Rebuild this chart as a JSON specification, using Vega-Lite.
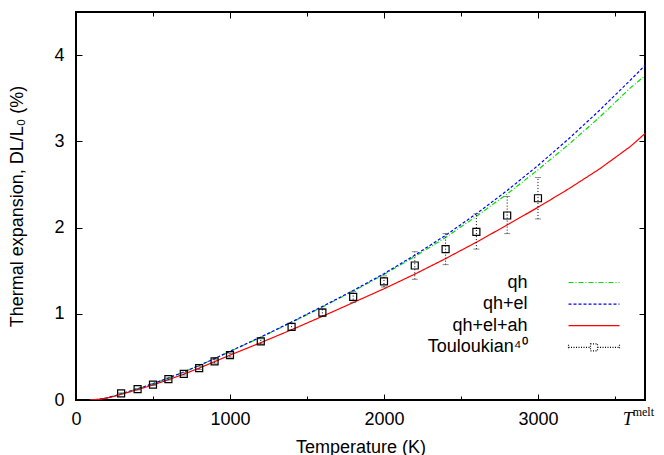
{
  "$schema": "https://vega.github.io/schema/vega-lite/v6.json",
  "width": 569,
  "height": 388,
  "autosize": {"type": "none"},
  "padding": {"left": 76, "top": 12, "right": 19, "bottom": 55},
  "background": "white",
  "config": {
    "view": {"stroke": "black", "strokeWidth": 2},
    "font": "Liberation Sans",
    "axis": {
      "domain": false, "grid": false,
      "labelFont": "Liberation Sans", "labelFontSize": 18, "labelColor": "black",
      "titleFont": "Liberation Sans", "titleFontSize": 18, "titleFontWeight": "normal", "titleColor": "black",
      "tickColor": "black", "tickWidth": 1
    }
  },
  "datasets": {
    "curves": [
      {"series": "qh", "T": 90, "v": 0}, {"series": "qh", "T": 150, "v": 0.009}, {"series": "qh", "T": 200, "v": 0.024}, {"series": "qh", "T": 250, "v": 0.047}, {"series": "qh", "T": 300, "v": 0.075}, {"series": "qh", "T": 400, "v": 0.13}, {"series": "qh", "T": 500, "v": 0.19}, {"series": "qh", "T": 600, "v": 0.255}, {"series": "qh", "T": 700, "v": 0.325}, {"series": "qh", "T": 800, "v": 0.4}, {"series": "qh", "T": 900, "v": 0.48}, {"series": "qh", "T": 1000, "v": 0.563}, {"series": "qh", "T": 1200, "v": 0.727}, {"series": "qh", "T": 1400, "v": 0.9}, {"series": "qh", "T": 1600, "v": 1.079}, {"series": "qh", "T": 1800, "v": 1.262}, {"series": "qh", "T": 2000, "v": 1.455}, {"series": "qh", "T": 2200, "v": 1.665}, {"series": "qh", "T": 2400, "v": 1.885}, {"series": "qh", "T": 2600, "v": 2.13}, {"series": "qh", "T": 2800, "v": 2.39}, {"series": "qh", "T": 3000, "v": 2.67}, {"series": "qh", "T": 3200, "v": 2.965}, {"series": "qh", "T": 3400, "v": 3.28}, {"series": "qh", "T": 3600, "v": 3.62}, {"series": "qh", "T": 3695, "v": 3.76},
      {"series": "qh+el", "T": 90, "v": 0}, {"series": "qh+el", "T": 150, "v": 0.009}, {"series": "qh+el", "T": 200, "v": 0.024}, {"series": "qh+el", "T": 250, "v": 0.047}, {"series": "qh+el", "T": 300, "v": 0.075}, {"series": "qh+el", "T": 400, "v": 0.13}, {"series": "qh+el", "T": 500, "v": 0.19}, {"series": "qh+el", "T": 600, "v": 0.255}, {"series": "qh+el", "T": 700, "v": 0.325}, {"series": "qh+el", "T": 800, "v": 0.4}, {"series": "qh+el", "T": 900, "v": 0.48}, {"series": "qh+el", "T": 1000, "v": 0.565}, {"series": "qh+el", "T": 1200, "v": 0.73}, {"series": "qh+el", "T": 1400, "v": 0.905}, {"series": "qh+el", "T": 1600, "v": 1.085}, {"series": "qh+el", "T": 1800, "v": 1.27}, {"series": "qh+el", "T": 2000, "v": 1.465}, {"series": "qh+el", "T": 2200, "v": 1.68}, {"series": "qh+el", "T": 2400, "v": 1.91}, {"series": "qh+el", "T": 2600, "v": 2.16}, {"series": "qh+el", "T": 2800, "v": 2.43}, {"series": "qh+el", "T": 3000, "v": 2.72}, {"series": "qh+el", "T": 3200, "v": 3.03}, {"series": "qh+el", "T": 3400, "v": 3.36}, {"series": "qh+el", "T": 3600, "v": 3.71}, {"series": "qh+el", "T": 3695, "v": 3.88},
      {"series": "qh+el+ah", "T": 90, "v": 0}, {"series": "qh+el+ah", "T": 150, "v": 0.008}, {"series": "qh+el+ah", "T": 200, "v": 0.022}, {"series": "qh+el+ah", "T": 250, "v": 0.043}, {"series": "qh+el+ah", "T": 300, "v": 0.07}, {"series": "qh+el+ah", "T": 400, "v": 0.12}, {"series": "qh+el+ah", "T": 500, "v": 0.175}, {"series": "qh+el+ah", "T": 600, "v": 0.235}, {"series": "qh+el+ah", "T": 700, "v": 0.3}, {"series": "qh+el+ah", "T": 800, "v": 0.37}, {"series": "qh+el+ah", "T": 900, "v": 0.445}, {"series": "qh+el+ah", "T": 1000, "v": 0.52}, {"series": "qh+el+ah", "T": 1200, "v": 0.665}, {"series": "qh+el+ah", "T": 1400, "v": 0.815}, {"series": "qh+el+ah", "T": 1600, "v": 0.97}, {"series": "qh+el+ah", "T": 1800, "v": 1.13}, {"series": "qh+el+ah", "T": 2000, "v": 1.29}, {"series": "qh+el+ah", "T": 2200, "v": 1.46}, {"series": "qh+el+ah", "T": 2400, "v": 1.64}, {"series": "qh+el+ah", "T": 2600, "v": 1.83}, {"series": "qh+el+ah", "T": 2800, "v": 2.03}, {"series": "qh+el+ah", "T": 3000, "v": 2.235}, {"series": "qh+el+ah", "T": 3200, "v": 2.45}, {"series": "qh+el+ah", "T": 3400, "v": 2.68}, {"series": "qh+el+ah", "T": 3600, "v": 2.94}, {"series": "qh+el+ah", "T": 3695, "v": 3.09}
    ],
    "tl": [
      {"series": "Touloukian⁴⁰", "T": 293, "v": 0.077, "lo": 0.072, "hi": 0.082},
      {"series": "Touloukian⁴⁰", "T": 400, "v": 0.125, "lo": 0.118, "hi": 0.132},
      {"series": "Touloukian⁴⁰", "T": 500, "v": 0.178, "lo": 0.17, "hi": 0.186},
      {"series": "Touloukian⁴⁰", "T": 600, "v": 0.243, "lo": 0.232, "hi": 0.254},
      {"series": "Touloukian⁴⁰", "T": 700, "v": 0.304, "lo": 0.29, "hi": 0.318},
      {"series": "Touloukian⁴⁰", "T": 800, "v": 0.37, "lo": 0.353, "hi": 0.387},
      {"series": "Touloukian⁴⁰", "T": 900, "v": 0.447, "lo": 0.427, "hi": 0.467},
      {"series": "Touloukian⁴⁰", "T": 1000, "v": 0.52, "lo": 0.497, "hi": 0.543},
      {"series": "Touloukian⁴⁰", "T": 1200, "v": 0.68, "lo": 0.65, "hi": 0.71},
      {"series": "Touloukian⁴⁰", "T": 1400, "v": 0.848, "lo": 0.81, "hi": 0.886},
      {"series": "Touloukian⁴⁰", "T": 1600, "v": 1.014, "lo": 0.97, "hi": 1.06},
      {"series": "Touloukian⁴⁰", "T": 1800, "v": 1.195, "lo": 1.13, "hi": 1.26},
      {"series": "Touloukian⁴⁰", "T": 2000, "v": 1.376, "lo": 1.31, "hi": 1.44},
      {"series": "Touloukian⁴⁰", "T": 2200, "v": 1.56, "lo": 1.4, "hi": 1.72},
      {"series": "Touloukian⁴⁰", "T": 2400, "v": 1.75, "lo": 1.57, "hi": 1.93},
      {"series": "Touloukian⁴⁰", "T": 2600, "v": 1.95, "lo": 1.75, "hi": 2.16},
      {"series": "Touloukian⁴⁰", "T": 2800, "v": 2.14, "lo": 1.93, "hi": 2.36},
      {"series": "Touloukian⁴⁰", "T": 3000, "v": 2.34, "lo": 2.1, "hi": 2.58}
    ],
    "melt": [
      {"T": 3695, "v": 0, "part": "T"},
      {"T": 3695, "v": 0, "part": "melt"}
    ]
  },
  "layer": [
    {
      "data": {"name": "curves"},
      "mark": {"type": "line", "strokeWidth": 1.2, "clip": true},
      "encoding": {
        "x": {
          "field": "T", "type": "quantitative",
          "scale": {"domain": [0, 3695], "nice": false, "zero": false},
          "axis": {
            "orient": "bottom", "title": "Temperature (K)",
            "values": [0, 500, 1000, 1500, 2000, 2500, 3000, 3500],
            "labelExpr": "datum.value % 1000 === 0 ? datum.label : ''",
            "format": "d",
            "tickSize": {"condition": {"test": "datum.value % 1000 === 0", "value": -6}, "value": -4},
            "labelPadding": 16, "titlePadding": 10, "labelFlush": false
          }
        },
        "y": {
          "field": "v", "type": "quantitative",
          "scale": {"domain": [0, 4.5], "nice": false},
          "axis": {
            "orient": "left", "title": "Thermal expansion, DL/L₀ (%)",
            "values": [0, 1, 2, 3, 4], "format": "d",
            "tickSize": -6, "labelPadding": 18, "titlePadding": 27
          }
        },
        "color": {
          "field": "series", "type": "nominal",
          "scale": {"domain": ["qh", "qh+el", "qh+el+ah", "Touloukian⁴⁰"], "range": ["#00e000", "#0000ff", "#ff0000", "#000000"]},
          "legend": {
            "title": null, "orient": "none", "legendX": 509, "legendY": 261.5,
            "direction": "vertical", "padding": 0,
            "symbolSize": 100, "rowPadding": 3.6,
            "symbolStrokeWidth": 1, "symbolOffset": 0,
            "labelAlign": "right", "labelOffset": -75.5, "labelBaseline": "middle",
            "labelFont": "Liberation Sans", "labelFontSize": 18, "labelColor": "black", "labelLimit": 300,
            "symbolType": "M-5.1,0H5.1",
            "encode": {
              "symbols": {
                "update": {
                  "shape": {"signal": "datum.value === 'Touloukian⁴⁰' ? 'M-5.1,-0.5V0.5M-5.1,0H-0.7M0.7,0H5.1M5.1,-0.5V0.5M-0.7,-0.7H0.7V0.7H-0.7Z' : 'M-5.1,0H5.1'"},
                  "strokeDash": {"signal": "datum.value === 'qh' ? [5,2,1,2] : datum.value === 'qh+el' ? [3,2] : datum.value === 'Touloukian⁴⁰' ? [1,1.2] : [1,0]"},
                  "stroke": {"signal": "datum.value === 'qh' ? '#00e000' : datum.value === 'qh+el' ? '#0000ff' : datum.value === 'qh+el+ah' ? '#ff0000' : '#000000'"},
                  "strokeWidth": {"value": 1.2},
                  "fill": {"value": "transparent"},
                  "opacity": {"value": 1}
                }
              }
            }
          }
        },
        "strokeDash": {
          "field": "series", "type": "nominal",
          "scale": {"domain": ["qh", "qh+el", "qh+el+ah", "Touloukian⁴⁰"], "range": [[5, 2, 1, 2], [3, 2], [1, 0], [1, 1.5]]},
          "legend": null
        }
      }
    },
    {
      "data": {"name": "tl"},
      "mark": {"type": "rule", "strokeDash": [1, 2], "color": "black", "strokeWidth": 1},
      "encoding": {
        "x": {"field": "T", "type": "quantitative", "axis": null},
        "y": {"field": "lo", "type": "quantitative", "axis": null},
        "y2": {"field": "hi"}
      }
    },
    {
      "data": {"name": "tl"},
      "mark": {"type": "tick", "orient": "horizontal", "size": 6, "thickness": 1, "color": "#555555"},
      "encoding": {
        "x": {"field": "T", "type": "quantitative", "axis": null},
        "y": {"field": "lo", "type": "quantitative", "axis": null}
      }
    },
    {
      "data": {"name": "tl"},
      "mark": {"type": "tick", "orient": "horizontal", "size": 6, "thickness": 1, "color": "#555555"},
      "encoding": {
        "x": {"field": "T", "type": "quantitative", "axis": null},
        "y": {"field": "hi", "type": "quantitative", "axis": null}
      }
    },
    {
      "data": {"name": "tl"},
      "mark": {"type": "point", "shape": "square", "size": 49, "filled": false, "strokeWidth": 1.2, "opacity": 1},
      "encoding": {
        "x": {
          "field": "T", "type": "quantitative",
          "axis": {
            "orient": "top", "title": null, "labels": false,
            "values": [0, 500, 1000, 1500, 2000, 2500, 3000, 3500],
            "tickSize": {"condition": {"test": "datum.value % 1000 === 0", "value": -6}, "value": -4}
          }
        },
        "y": {
          "field": "v", "type": "quantitative",
          "axis": {"orient": "right", "title": null, "labels": false, "values": [0, 1, 2, 3, 4], "tickSize": -6}
        },
        "color": {"field": "series", "type": "nominal"}
      }
    },
    {
      "data": {"name": "melt"},
      "transform": [{"filter": "datum.part === 'T'"}],
      "mark": {"type": "text", "font": "Liberation Serif", "fontStyle": "italic", "fontSize": 18.5, "align": "center", "baseline": "alphabetic", "dx": -17, "dy": 25, "color": "black"},
      "encoding": {
        "x": {"field": "T", "type": "quantitative", "axis": null},
        "y": {"field": "v", "type": "quantitative", "axis": null},
        "text": {"field": "part"}
      }
    },
    {
      "data": {"name": "melt"},
      "transform": [{"filter": "datum.part === 'melt'"}],
      "mark": {"type": "text", "font": "Liberation Serif", "fontSize": 12, "align": "left", "baseline": "alphabetic", "dx": -12.3, "dy": 16, "color": "black"},
      "encoding": {
        "x": {"field": "T", "type": "quantitative", "axis": null},
        "y": {"field": "v", "type": "quantitative", "axis": null},
        "text": {"field": "part"}
      }
    }
  ],
  "resolve": {"axis": {"x": "independent", "y": "independent"}}
}
